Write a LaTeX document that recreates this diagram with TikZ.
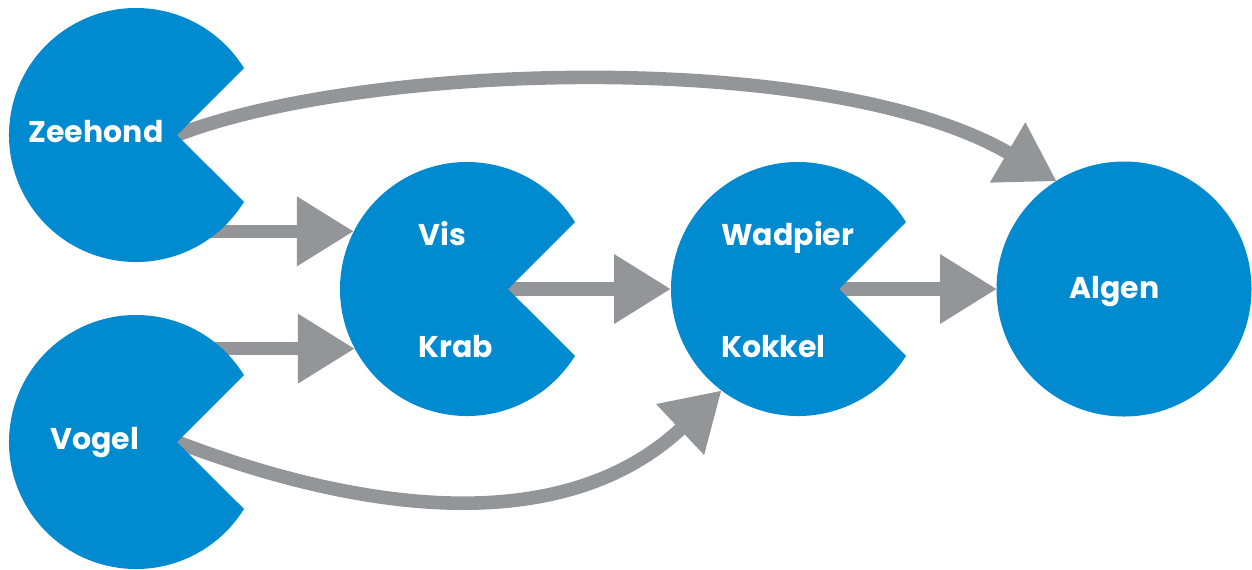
\documentclass[tikz,border=0pt]{standalone}
\usepackage{fontspec}
\setmainfont{Poppins}
\usetikzlibrary{arrows.meta,calc}
\definecolor{pacblue}{RGB}{0,138,208}
\definecolor{arrowgray}{RGB}{147,149,152}
\newcommand\pacman[1]{\fill[pacblue] ($(#1.center)+(41,0)$) -- ($(#1.center)+(-31.8:127)$) arc[start angle=-31.8,end angle=-328.2,radius=127] -- cycle;}
\begin{document}
\begin{tikzpicture}[x=0.5pt,y=-0.5pt,
  hole/.style={circle,minimum size=127pt,inner sep=0pt,outer sep=0pt},
  lbl/.style={text=white,font=\bfseries\fontsize{15}{18}\selectfont,inner sep=0pt},
  flow/.style={draw=arrowgray,line width=6.8pt,-{Triangle[length=28.5pt,width=33pt]}}]
\useasboundingbox (0,0) rectangle (1252,569);
% anchors
\node[hole] (zee) at (136,135) {};
\node[hole] (vog) at (136,442) {};
\node[hole] (vis) at (467,289) {};
\node[hole] (wad) at (798,289) {};
\node[hole] (alg) at (1124,289) {};
\coordinate (zeem) at ($(zee.center)+(41,0)$);
\coordinate (vogm) at ($(vog.center)+(41,0)$);
\coordinate (vism) at ($(vis.center)+(41,0)$);
\coordinate (wadm) at ($(wad.center)+(41,0)$);
% connectors
\draw[flow] (zeem) .. controls (366,62) and (830,48) .. (alg.122);
\draw[flow] (vogm) .. controls (366,514) and (565,538) .. (wad.233.6);
\draw[flow] (zee.center |- vis.153.8) -- (vis.153.8);
\draw[flow] (vog.center |- vis.208.8) -- (vis.208.8);
\draw[flow] (vism) -- (wad.west);
\draw[flow] (wadm) -- (alg.west);
% shapes
\pacman{zee}
\pacman{vog}
\pacman{vis}
\pacman{wad}
\fill[pacblue] (alg) circle[radius=127.5];
% labels
\node[lbl,anchor=base] (tzee) at (96,142) {Zeehond};
\node[lbl,anchor=base] (tvog) at (94.5,449) {Vogel};
\node[lbl,anchor=base west] (tvis) at (418,245) {Vis};
\node[lbl,anchor=base west] (tkrab) at (418,357) {Krab};
\node[lbl,anchor=base west] (twad) at (721,245) {Wadpier};
\node[lbl,anchor=base west] (tkok) at (721,357) {Kokkel};
\node[lbl,anchor=base] (talg) at (1114.5,298) {Algen};
\end{tikzpicture}
\end{document}
